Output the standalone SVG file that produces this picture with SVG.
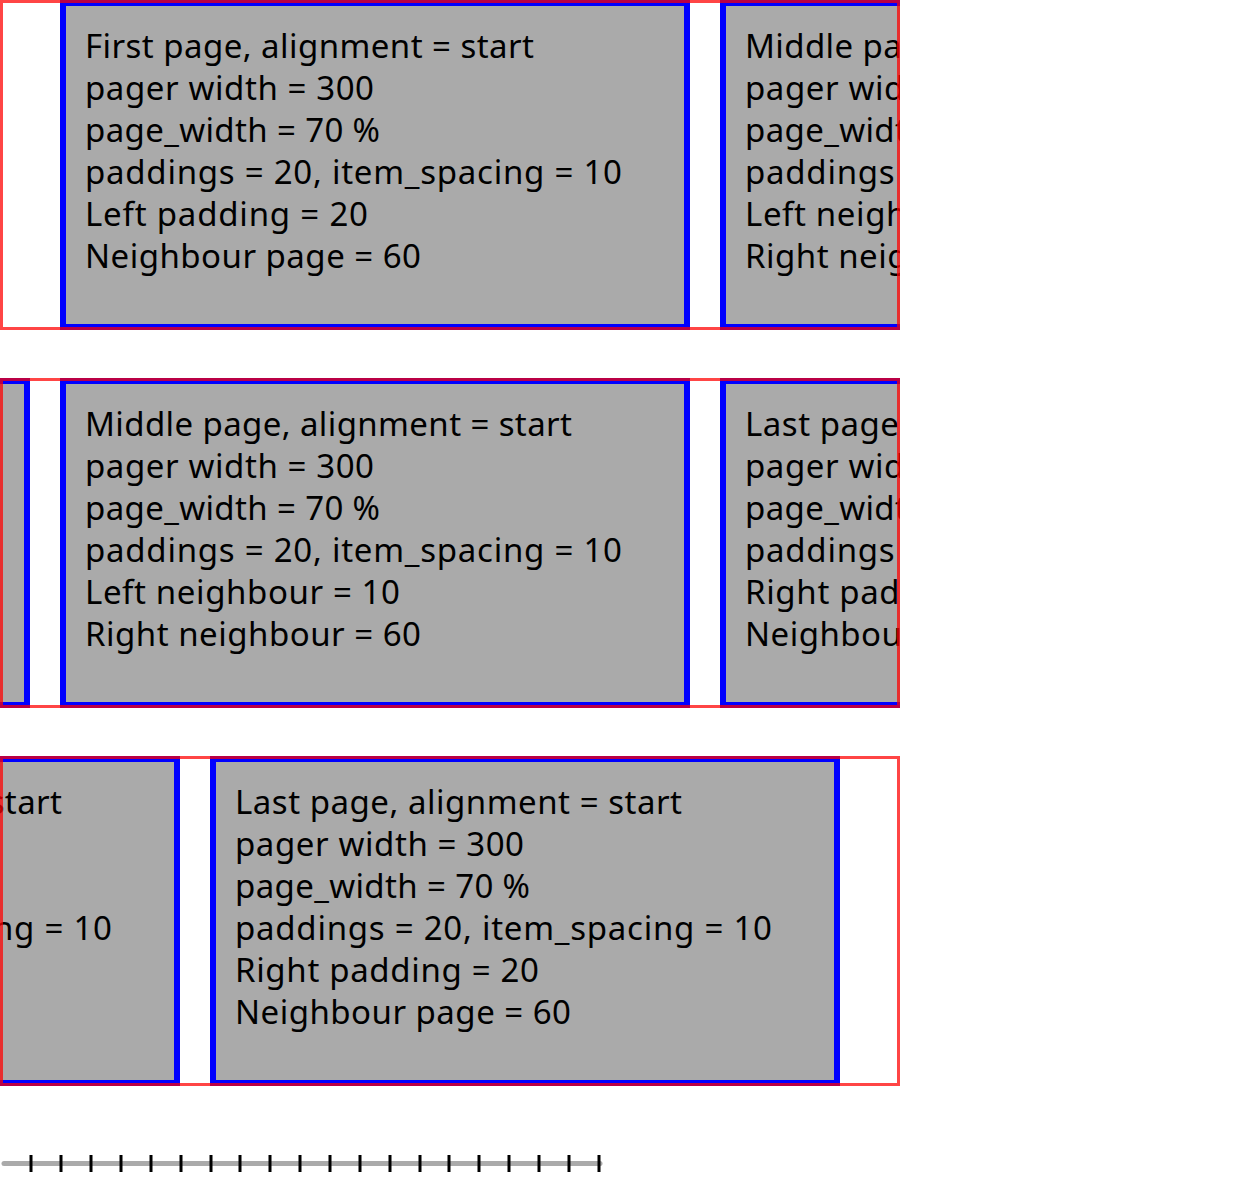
<svg xmlns="http://www.w3.org/2000/svg" width="1242" height="1194" viewBox="0 0 1242 1194">
<style>
.page{fill:#aaaaaa;stroke:#0000ff;stroke-width:6}
.pager{fill:none;stroke:#ff0000;stroke-opacity:0.73;stroke-width:3}
text{font-family:"Noto Sans","Open Sans","Liberation Sans",sans-serif;font-size:33px;fill:#000}
.tick{stroke:#000;stroke-width:3}
</style>
<defs>
<clipPath id="c1"><rect x="0" y="0" width="900" height="330"/></clipPath>
<clipPath id="c2"><rect x="0" y="378" width="900" height="330"/></clipPath>
<clipPath id="c3"><rect x="0" y="756" width="900" height="330"/></clipPath>
</defs>
<g id="pager1">
<g clip-path="url(#c1)">
<g id="p1-first">
<rect class="page" x="63" y="3" width="624" height="324"/>
<text x="85" y="58" textLength="449">First page, alignment = start</text>
<text x="85" y="100" textLength="289">pager width = 300</text>
<text x="85" y="142" textLength="295">page_width = 70 %</text>
<text x="85" y="184" textLength="537">paddings = 20, item_spacing = 10</text>
<text x="85" y="226" textLength="283">Left padding = 20</text>
<text x="85" y="268" textLength="336">Neighbour page = 60</text>
</g>
<g id="p1-middle">
<rect class="page" x="723" y="3" width="624" height="324"/>
<text x="745" y="58" textLength="487">Middle page, alignment = start</text>
<text x="745" y="100" textLength="289">pager width = 300</text>
<text x="745" y="142" textLength="295">page_width = 70 %</text>
<text x="745" y="184" textLength="537">paddings = 20, item_spacing = 10</text>
<text x="745" y="226" textLength="315">Left neighbour = 10</text>
<text x="745" y="268" textLength="336">Right neighbour = 60</text>
</g>
</g>
<rect class="pager" x="1.5" y="1.5" width="897" height="327"/>
</g>
<g id="pager2">
<g clip-path="url(#c2)">
<g id="p2-first">
<rect class="page" x="-597" y="381" width="624" height="324"/>
</g>
<g id="p2-middle">
<rect class="page" x="63" y="381" width="624" height="324"/>
<text x="85" y="436" textLength="487">Middle page, alignment = start</text>
<text x="85" y="478" textLength="289">pager width = 300</text>
<text x="85" y="520" textLength="295">page_width = 70 %</text>
<text x="85" y="562" textLength="537">paddings = 20, item_spacing = 10</text>
<text x="85" y="604" textLength="315">Left neighbour = 10</text>
<text x="85" y="646" textLength="336">Right neighbour = 60</text>
</g>
<g id="p2-last">
<rect class="page" x="723" y="381" width="624" height="324"/>
<text x="745" y="436" textLength="447">Last page, alignment = start</text>
<text x="745" y="478" textLength="289">pager width = 300</text>
<text x="745" y="520" textLength="295">page_width = 70 %</text>
<text x="745" y="562" textLength="537">paddings = 20, item_spacing = 10</text>
<text x="745" y="604" textLength="304">Right padding = 20</text>
<text x="745" y="646" textLength="336">Neighbour page = 60</text>
</g>
</g>
<rect class="pager" x="1.5" y="379.5" width="897" height="327"/>
</g>
<g id="pager3">
<g clip-path="url(#c3)">
<g id="p3-middle">
<rect class="page" x="-447" y="759" width="624" height="324"/>
<text x="-425" y="814" textLength="487">Middle page, alignment = start</text>
<text x="-425" y="856" textLength="289">pager width = 300</text>
<text x="-425" y="898" textLength="295">page_width = 70 %</text>
<text x="-425" y="940" textLength="537">paddings = 20, item_spacing = 10</text>
<text x="-425" y="982" textLength="315">Left neighbour = 10</text>
<text x="-425" y="1024" textLength="336">Right neighbour = 60</text>
</g>
<g id="p3-last">
<rect class="page" x="213" y="759" width="624" height="324"/>
<text x="235" y="814" textLength="447">Last page, alignment = start</text>
<text x="235" y="856" textLength="289">pager width = 300</text>
<text x="235" y="898" textLength="295">page_width = 70 %</text>
<text x="235" y="940" textLength="537">paddings = 20, item_spacing = 10</text>
<text x="235" y="982" textLength="304">Right padding = 20</text>
<text x="235" y="1024" textLength="336">Neighbour page = 60</text>
</g>
</g>
<rect class="pager" x="1.5" y="757.5" width="897" height="327"/>
</g>
<g id="ruler">
<line x1="4" y1="1163.5" x2="600" y2="1163.5" stroke="#aaaaaa" stroke-width="5" stroke-linecap="round"/>
<path class="tick" d="M31 1155V1172M61 1155V1172M91 1155V1172M121 1155V1172M151 1155V1172M181 1155V1172M211 1155V1172M240 1155V1172M270 1155V1172M300 1155V1172M330 1155V1172M360 1155V1172M390 1155V1172M420 1155V1172M449 1155V1172M479 1155V1172M509 1155V1172M539 1155V1172M569 1155V1172M599 1155V1172"/>
</g>
</svg>
